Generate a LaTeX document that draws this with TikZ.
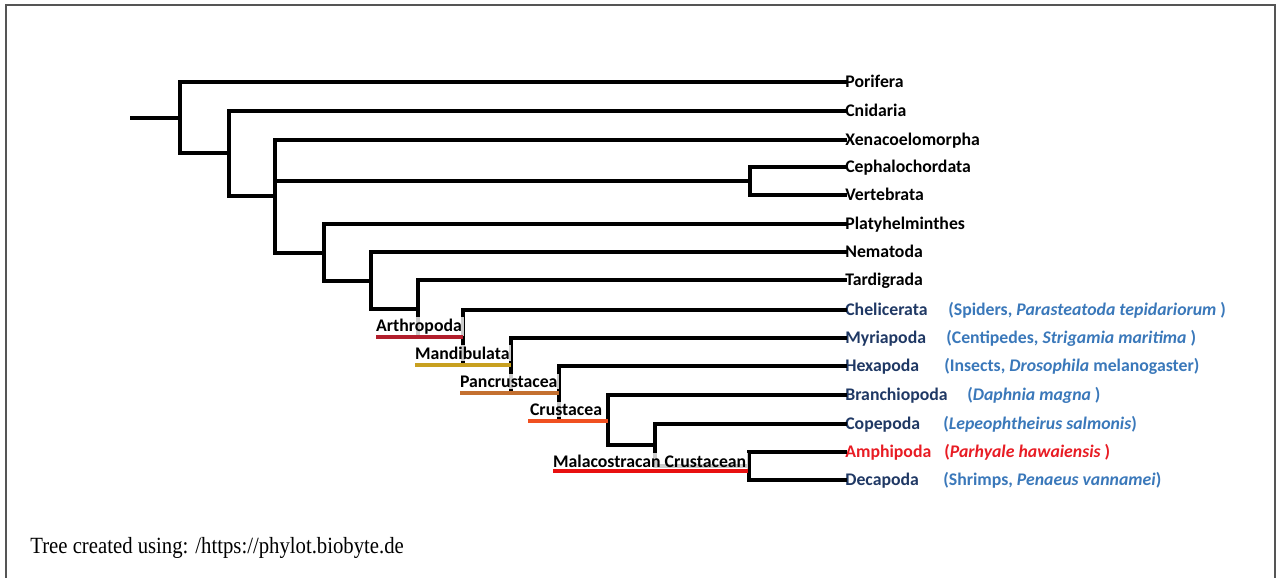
\documentclass[tikz,border=0pt]{standalone}
\usepackage{fontspec}
\setmainfont{Carlito}[BoldFont={Carlito Bold}, ItalicFont={Carlito Italic}, BoldItalicFont={Carlito Bold Italic}]
\newfontfamily\creditfont{Liberation Serif}
\definecolor{navy}{RGB}{31,56,100}
\definecolor{noteblue}{RGB}{58,120,186}
\definecolor{amphired}{RGB}{232,28,36}
\definecolor{framegray}{RGB}{85,85,85}
\definecolor{arthrocol}{RGB}{178,30,44}
\definecolor{mandicol}{RGB}{200,160,32}
\definecolor{pancol}{RGB}{196,112,48}
\definecolor{crucol}{RGB}{240,80,32}
\definecolor{malcol}{RGB}{232,16,16}
\newcommand{\labelfont}{\fontsize{10.1}{12}\selectfont\bfseries}
\begin{document}
\begin{tikzpicture}[x=0.02cm,y=-0.02cm,
  branch/.style={line width=1.85pt, black, line cap=rect, line join=miter},
  tip/.style={anchor=west, inner sep=0pt, text height=6.4pt, text depth=0pt, font=\labelfont},
  note/.style={tip, text=noteblue},
  cladename/.style={anchor=base west, inner sep=1pt, fill=white, fill opacity=0.8, text opacity=1, font=\labelfont},
  band/.style={line width=2.4pt, line cap=butt}]
\useasboundingbox (0,0) rectangle (1276,578);

% frame
\draw[framegray, line width=1.1pt] (6,590) -- (6,5) -- (1275,5) -- (1275,590);

% taxa
\node[tip] (porifera) at (845,82) {Porifera};
\node[tip] (cnidaria) at (845,111) {Cnidaria};
\node[tip] (xeno) at (845,140) {Xenacoelomorpha};
\node[tip] (cephalo) at (845,167) {Cephalochordata};
\node[tip] (verte) at (845,195) {Vertebrata};
\node[tip] (platy) at (845,224) {Platyhelminthes};
\node[tip] (nema) at (845,252) {Nematoda};
\node[tip] (tardi) at (845,280) {Tardigrada};
\node[tip, text=navy] (cheli) at (845,310) {Chelicerata};
\node[tip, text=navy] (myria) at (845,338) {Myriapoda};
\node[tip, text=navy] (hexa) at (845,366) {Hexapoda};
\node[tip, text=navy] (branchio) at (845,395) {Branchiopoda};
\node[tip, text=navy] (cope) at (845,424) {Copepoda};
\node[tip, text=amphired] (amphi) at (845,452) {Amphipoda};
\node[tip, text=navy] (deca) at (845,480) {Decapoda};

% common names and species
\node[note] (cheli-sp) at (948,310) {(Spiders, \textit{Parasteatoda tepidariorum} )};
\node[note] (myria-sp) at (946,338) {(Centipedes, \textit{Strigamia maritima} )};
\node[note] (hexa-sp) at (944,366) {(Insects, \textit{Drosophila} melanogaster)};
\node[note] (branchio-sp) at (967,395) {(\textit{Daphnia magna} )};
\node[note] (cope-sp) at (943,424) {(\textit{Lepeophtheirus salmonis})};
\node[note, text=amphired] (amphi-sp) at (944,452) {(\textit{Parhyale hawaiensis} )};
\node[note] (deca-sp) at (943,480) {(Shrimps, \textit{Penaeus vannamei})};

% internal nodes
\coordinate (root) at (132,118);
\coordinate (n1) at (180,118);
\coordinate (n2) at (229,153);
\coordinate (n3) at (275,196);
\coordinate (cv) at (750,181);
\coordinate (n4) at (324,253);
\coordinate (n5) at (371,281);
\coordinate (n6) at (418,309);
\coordinate (art) at (463,337);
\coordinate (man) at (511,365);
\coordinate (pan) at (559,393);
\coordinate (cru) at (608,421);
\coordinate (cm) at (655,445);
\coordinate (mal) at (749,466);

% branches
\draw[branch] (root) -- (n1);
\draw[branch] (n1) |- (porifera.west);
\draw[branch] (n1) |- (n2);
\draw[branch] (n2) |- (cnidaria.west);
\draw[branch] (n2) |- (n3);
\draw[branch] (n3) |- (xeno.west);
\draw[branch] (n3 |- cv) -- (cv);
\draw[branch] (cv) |- (cephalo.west);
\draw[branch] (cv) |- (verte.west);
\draw[branch] (n3) |- (n4);
\draw[branch] (n4) |- (platy.west);
\draw[branch] (n4) |- (n5);
\draw[branch] (n5) |- (nema.west);
\draw[branch] (n5) |- (n6);
\draw[branch] (n6) |- (tardi.west);
\draw[branch] (n6) |- (art);
\draw[branch] (art) |- (cheli.west);
\draw[branch] (art) |- (man);
\draw[branch] (man) |- (myria.west);
\draw[branch] (man) |- (pan);
\draw[branch] (pan) |- (hexa.west);
\draw[branch] (pan) |- (cru);
\draw[branch] (cru) |- (branchio.west);
\draw[branch] (cru) |- (cm);
\draw[branch] (cm) |- (cope.west);
\draw[branch] (cm) |- (mal);
\draw[branch] (mal) |- (amphi.west);
\draw[branch] (mal) |- (deca.west);

% clade names
\node[cladename] (arthro-l) at (374,331) {Arthropoda};
\node[cladename] (mandi-l) at (413,359) {Mandibulata};
\node[cladename] (pan-l) at (458,387) {Pancrustacea};
\node[cladename] (cru-l) at (528,415) {Crustacea};
\node[cladename] (mal-l) at (551,467) {Malacostracan Crustacean};

% clade bands
\coordinate (arthro-s) at (376,337);
\coordinate (mandi-s) at (415,365);
\coordinate (pan-s) at (460,393);
\coordinate (cru-s) at (528,421);
\coordinate (mal-s) at (553,471);
\coordinate (mal-e) at (748,471);
\draw[band, arthrocol] (arthro-s) -- (art);
\draw[band, mandicol] (mandi-s) -- (man);
\draw[band, pancol] (pan-s) -- (pan);
\draw[band, crucol] (cru-s) -- (cru);
\draw[band, malcol] (mal-s) -- (mal-e);

% credit line
\node[anchor=base west, inner sep=0pt, font=\creditfont\fontsize{11.8}{14}\selectfont] (credit) at (30,553) {\scalebox{1}[1.12]{Tree created using: /https://phylot.biobyte.de}};
\end{tikzpicture}
\end{document}
